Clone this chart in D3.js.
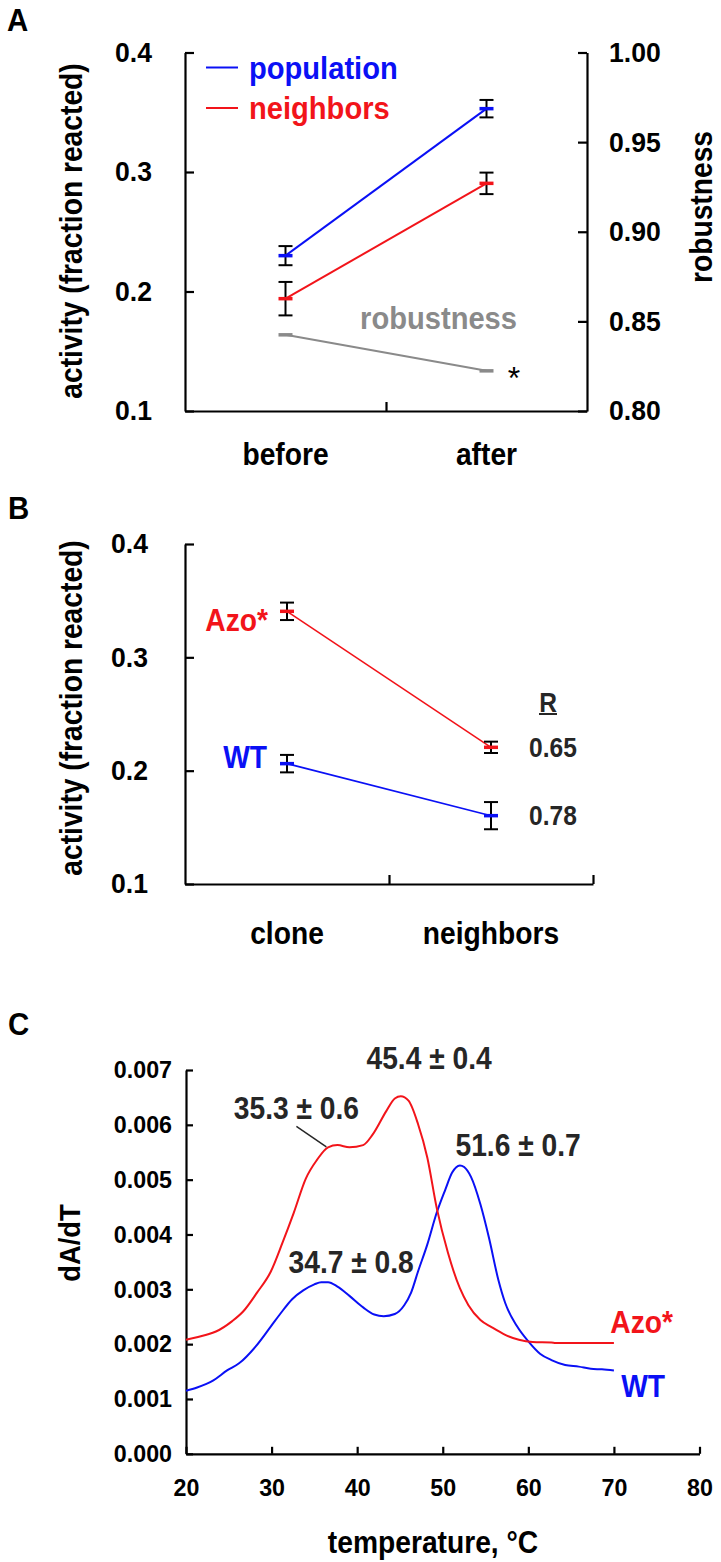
<!DOCTYPE html>
<html>
<head>
<meta charset="utf-8">
<script src="https://cdn.jsdelivr.net/npm/d3@7"></script>
<style>
  html, body { margin: 0; padding: 0; background: #fff; }
  svg { display: block; font-family: "Liberation Sans", Arial, sans-serif; font-weight: bold; }
</style>
</head>
<body>
<script>
// ---------- DATA ----------
// Panel A
const groupsA = ["before", "after"];
const popMean = [0.230, 0.353];
const popErr  = [0.008, 0.0073];
const neiMean = [0.194, 0.2905];
const neiErr  = [0.014, 0.009];
const robMean = [0.8425, 0.8224];
const ticksAleft  = [0.1, 0.2, 0.3, 0.4];
const ticksAright = [0.80, 0.85, 0.90, 0.95, 1.00];

// Panel B
const groupsB = ["clone", "neighbors"];
const azoMean = [0.3406, 0.2206];
const azoErr  = [0.0077, 0.005];
const wtMean  = [0.2062, 0.1603];
const wtErr   = [0.0077, 0.012];
const rValues = ["0.65", "0.78"];
const ticksB  = [0.1, 0.2, 0.3, 0.4];

// Panel C
const azoTemp = [20, 22.4, 23.5, 25.4, 26.7, 28.3, 29.9, 31.3, 32.6, 34.0, 35.3, 36.6, 37.7, 39.1, 40.7, 41.8, 43.4, 44.4, 45.1, 46.0, 47.1, 48.2, 49.3, 50.6, 52.0, 53.0, 54.4, 55.7, 57.3, 58.9, 60.5, 62.7, 63.2, 70.0];
const azoVal  = [0.00208, 0.00217, 0.00223, 0.00242, 0.0026, 0.00294, 0.00332, 0.00386, 0.0044, 0.00502, 0.00536, 0.00559, 0.00563, 0.00559, 0.00563, 0.00582, 0.00625, 0.00648, 0.00652, 0.00644, 0.00602, 0.0054, 0.00448, 0.00367, 0.00302, 0.00271, 0.00244, 0.00231, 0.00217, 0.00208, 0.00204, 0.00203, 0.00202, 0.00202];
const wtTemp = [20, 21.3, 23.2, 24.8, 26.2, 28.1, 29.9, 31.0, 32.4, 33.7, 35.0, 35.8, 36.6, 37.7, 39.1, 40.7, 42.0, 43.1, 44.4, 45.5, 46.3, 47.1, 48.2, 49.3, 50.3, 51.1, 52.0, 52.5, 53.3, 54.4, 55.4, 56.5, 57.3, 58.7, 60.0, 61.4, 62.7, 64.3, 65.9, 67.3, 68.6, 70.0];
const wtVal  = [0.00115, 0.00121, 0.00134, 0.00152, 0.00165, 0.00195, 0.00232, 0.00255, 0.00282, 0.00298, 0.00309, 0.00313, 0.00313, 0.00305, 0.00288, 0.00267, 0.00254, 0.00251, 0.00255, 0.00271, 0.00294, 0.00332, 0.00382, 0.0044, 0.00482, 0.00513, 0.00526, 0.00523, 0.00505, 0.00455, 0.00394, 0.00317, 0.00275, 0.00232, 0.00205, 0.00182, 0.00171, 0.00162, 0.00159, 0.00155, 0.00154, 0.00152];
const ticksCx = [20, 30, 40, 50, 60, 70, 80];
const ticksCy = [0, 0.001, 0.002, 0.003, 0.004, 0.005, 0.006, 0.007];
const peakLabels = [
  {t: "45.4 ± 0.4", T: 48.4, v: 0.00722},
  {t: "35.3 ± 0.6", T: 32.9, v: 0.00631},
  {t: "51.6 ± 0.7", T: 58.8, v: 0.00563},
  {t: "34.7 ± 0.8", T: 39.3, v: 0.00350}
];

// ---------- DRAWING ----------
const W = 721, H = 1562;
const BLUE = "#0a10f5", RED = "#f2141a", GRAY = "#8a8a8a", DARK = "#262626";
const SX = 0.91;   // slight horizontal condensing of the bold labels
const svg = d3.select("body").append("svg").attr("width", W).attr("height", H);
svg.append("rect").attr("width", W).attr("height", H).attr("fill", "#fff");

// text helper: condensed bold text placed at (x,y), optional rotation
function txt(g, x, y, s, size, o = {}) {
  const sx = o.sx ?? SX;
  const t = g.append("text")
    .attr("transform", `translate(${x},${y})` + (o.rot ? ` rotate(${o.rot})` : "") + ` scale(${sx},1)`)
    .attr("dy", "0.35em")
    .attr("text-anchor", o.anchor || "start")
    .attr("font-size", size)
    .attr("fill", o.fill || "#000")
    .text(s);
  if (o.weight) t.attr("font-weight", o.weight);
  return t;
}

function styleAxis(g, fs, sx = 0.95) {
  g.selectAll("path.domain").attr("stroke", "#000").attr("stroke-width", 2.2);
  g.selectAll(".tick line").attr("stroke", "#000").attr("stroke-width", 2.2);
  g.selectAll(".tick text").each(function () {
    const t = d3.select(this);
    const x = +t.attr("x") || 0, y = +t.attr("y") || 0;
    t.attr("x", x / sx).attr("transform", `scale(${sx},1)`);
  }).attr("fill", "#000").attr("font-size", fs)
    .attr("font-family", '"Liberation Sans", Arial, sans-serif').attr("font-weight", "bold");
}

function errorBars(g, xs, ys, means, errs, capW) {
  means.forEach((m, i) => {
    const x = xs(i), e = errs[i];
    g.append("line").attr("x1", x).attr("x2", x).attr("y1", ys(m - e)).attr("y2", ys(m + e))
      .attr("stroke", "#000").attr("stroke-width", 2);
    [m - e, m + e].forEach(v => g.append("line")
      .attr("x1", x - capW / 2).attr("x2", x + capW / 2).attr("y1", ys(v)).attr("y2", ys(v))
      .attr("stroke", "#000").attr("stroke-width", 2));
  });
}
function markers(g, xs, ys, means, color, w, sw) {
  means.forEach((m, i) => g.append("line")
    .attr("x1", xs(i) - w / 2).attr("x2", xs(i) + w / 2).attr("y1", ys(m)).attr("y2", ys(m))
    .attr("stroke", color).attr("stroke-width", sw));
}

// ===== Panel A =====
{
  const L = 185, R = 587, T = 52.5, B = 411;
  const x = d3.scalePoint().domain(groupsA).range([L, R]).padding(0.5);
  const xi = i => x(groupsA[i]);
  const y = d3.scaleLinear().domain([0.1, 0.4]).range([B, T]);
  const y2 = d3.scaleLinear().domain([0.80, 1.00]).range([B, T]);
  const g = svg.append("g");

  txt(g, 7, 20, "A", 31, {sx: 0.95});

  const ax = g.append("g").attr("transform", `translate(${L},0)`)
    .call(d3.axisLeft(y).tickValues(ticksAleft).tickFormat(d3.format(".1f")).tickSize(-9).tickSizeOuter(0).tickPadding(33));
  styleAxis(ax, 28);
  const ax2 = g.append("g").attr("transform", `translate(${R},0)`)
    .call(d3.axisRight(y2).tickValues(ticksAright).tickFormat(d3.format(".2f")).tickSize(-9).tickSizeOuter(0).tickPadding(22));
  styleAxis(ax2, 28);
  const xd = d3.scaleLinear().domain([0, 2]).range([L, R]);
  const axb = g.append("g").attr("transform", `translate(0,${B})`)
    .call(d3.axisBottom(xd).tickValues([1]).tickFormat("").tickSize(-9).tickSizeOuter(0));
  styleAxis(axb, 28);

  groupsA.forEach(c => txt(g, x(c), 454, c, 31, {anchor: "middle"}));

  txt(g, 71, 231, "activity (fraction reacted)", 31, {rot: -90, anchor: "middle"});
  txt(g, 701, 207, "robustness", 31, {rot: -90, anchor: "middle"});

  const line = d3.line().x((d, i) => xi(i));
  // robustness
  g.append("path").datum(robMean).attr("d", line.y(d => y2(d))).attr("fill", "none")
    .attr("stroke", GRAY).attr("stroke-width", 2);
  markers(g, xi, y2, robMean, GRAY, 14, 3.5);
  txt(g, 517, 318, "robustness", 32, {anchor: "end", fill: GRAY});
  txt(g, 514, 378, "*", 32, {anchor: "middle", weight: "normal", sx: 1});

  // series
  g.append("path").datum(neiMean).attr("d", line.y(d => y(d))).attr("fill", "none")
    .attr("stroke", RED).attr("stroke-width", 2);
  g.append("path").datum(popMean).attr("d", line.y(d => y(d))).attr("fill", "none")
    .attr("stroke", BLUE).attr("stroke-width", 2);
  errorBars(g, xi, y, popMean, popErr, 14);
  errorBars(g, xi, y, neiMean, neiErr, 14);
  markers(g, xi, y, popMean, BLUE, 14, 3.5);
  markers(g, xi, y, neiMean, RED, 14, 3.5);

  // legend
  [["population", BLUE, 67.5], ["neighbors", RED, 108]].forEach(([t, c, yy]) => {
    g.append("line").attr("x1", 206).attr("x2", 238).attr("y1", yy).attr("y2", yy)
      .attr("stroke", c).attr("stroke-width", 2);
    txt(g, 249, yy, t, 32, {fill: c});
  });
}

// ===== Panel B =====
{
  const L = 185, R = 593, T = 544, B = 884;
  const x = d3.scalePoint().domain(groupsB).range([L, R]).padding(0.5);
  const xi = i => x(groupsB[i]);
  const y = d3.scaleLinear().domain([0.1, 0.4]).range([B, T]);
  const g = svg.append("g");

  txt(g, 8, 508, "B", 31, {sx: 0.95});

  const ax = g.append("g").attr("transform", `translate(${L},0)`)
    .call(d3.axisLeft(y).tickValues(ticksB).tickFormat(d3.format(".1f")).tickSize(-9).tickSizeOuter(0).tickPadding(37));
  styleAxis(ax, 28);
  const xd = d3.scaleLinear().domain([0, 2]).range([L, R]);
  const axb = g.append("g").attr("transform", `translate(0,${B})`)
    .call(d3.axisBottom(xd).tickValues([1, 2]).tickFormat("").tickSize(-9).tickSizeOuter(0));
  styleAxis(axb, 28);

  groupsB.forEach(c => txt(g, x(c), 933, c, 31, {anchor: "middle"}));
  txt(g, 71, 708, "activity (fraction reacted)", 31, {rot: -90, anchor: "middle"});

  const line = d3.line().x((d, i) => xi(i)).y(d => y(d));
  g.append("path").datum(azoMean).attr("d", line).attr("fill", "none").attr("stroke", RED).attr("stroke-width", 1.6);
  g.append("path").datum(wtMean).attr("d", line).attr("fill", "none").attr("stroke", BLUE).attr("stroke-width", 1.6);
  errorBars(g, xi, y, azoMean, azoErr, 14);
  errorBars(g, xi, y, wtMean, wtErr, 14);
  markers(g, xi, y, azoMean, RED, 14, 3.5);
  markers(g, xi, y, wtMean, BLUE, 14, 3.5);

  txt(g, 268, 620, "Azo*", 31, {anchor: "end", fill: RED});
  txt(g, 267, 757, "WT", 31, {anchor: "end", fill: BLUE});

  txt(g, 548, 703, "R", 27, {anchor: "middle", fill: DARK});
  g.append("line").attr("x1", 539).attr("x2", 557).attr("y1", 714).attr("y2", 714).attr("stroke", DARK).attr("stroke-width", 2);
  rValues.forEach((r, i) => {
    const m = i === 0 ? azoMean[1] : wtMean[1];
    txt(g, 529, y(m), r, 27, {fill: DARK});
  });
}

// ===== Panel C =====
{
  const L = 186, R = 699.5, T = 1070, B = 1453.8;
  const x = d3.scaleLinear().domain([20, 80]).range([L, R]);
  const y = d3.scaleLinear().domain([0, 0.007]).range([B, T]);
  const g = svg.append("g");

  txt(g, 8, 1024, "C", 31, {sx: 0.95});

  const ax = g.append("g").attr("transform", `translate(${L},0)`)
    .call(d3.axisLeft(y).tickValues(ticksCy).tickFormat(d3.format(".3f")).tickSize(-7).tickSizeOuter(0).tickPadding(14));
  styleAxis(ax, 24.5);
  const axb = g.append("g").attr("transform", `translate(0,${B})`)
    .call(d3.axisBottom(x).tickValues(ticksCx).tickFormat(d3.format("d")).tickSize(-7).tickSizeOuter(0).tickPadding(25));
  styleAxis(axb, 24.5);

  txt(g, 433, 1542, "temperature, °C", 31, {anchor: "middle"});
  txt(g, 69, 1243, "dA/dT", 30, {rot: -90, anchor: "middle"});

  const lineA = d3.line().x((d, i) => x(azoTemp[i])).y(d => y(d)).curve(d3.curveMonotoneX);
  const lineW = d3.line().x((d, i) => x(wtTemp[i])).y(d => y(d)).curve(d3.curveMonotoneX);
  g.append("path").datum(wtVal).attr("d", lineW).attr("fill", "none").attr("stroke", BLUE).attr("stroke-width", 2);
  g.append("path").datum(azoVal).attr("d", lineA).attr("fill", "none").attr("stroke", RED).attr("stroke-width", 2);

  // leader line for shoulder
  g.append("line").attr("x1", x(32.9)).attr("y1", y(0.00597)).attr("x2", x(36.4)).attr("y2", y(0.0056))
    .attr("stroke", DARK).attr("stroke-width", 1.5);

  peakLabels.forEach(p => txt(g, x(p.T), y(p.v), p.t, 31, {anchor: "middle", fill: DARK}));

  txt(g, 673, 1322, "Azo*", 31, {anchor: "end", fill: RED});
  txt(g, 665, 1386, "WT", 31, {anchor: "end", fill: BLUE});
}
</script>
</body>
</html>
